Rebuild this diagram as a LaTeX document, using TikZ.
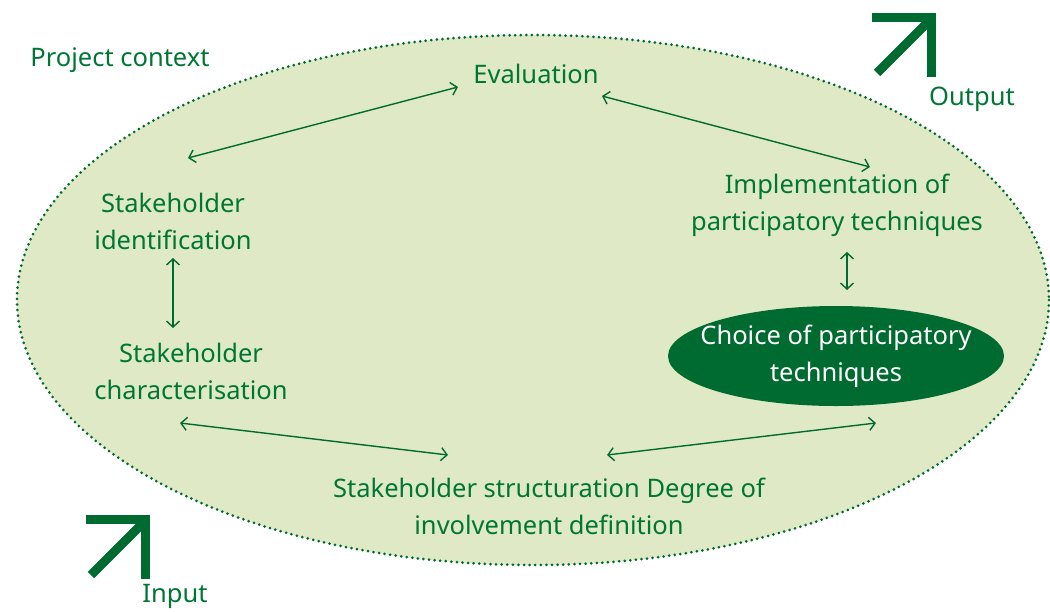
\documentclass[tikz,border=0pt]{standalone}
\usepackage{fontspec}
\setmainfont{Noto Sans}
\usepackage{tikz}
\usetikzlibrary{arrows.meta,shapes.geometric}
\definecolor{darkgreen}{RGB}{0,107,48}
\definecolor{textgreen}{RGB}{0,118,52}
\definecolor{lightgreen}{RGB}{224,233,197}

\begin{document}
\begin{tikzpicture}[x=1pt, y=-1pt,
		labeltext/.style={text=textgreen, font=\fontsize{25.5}{37}\selectfont, align=center},
		link/.style={draw=darkgreen, line width=1.4pt, {Straight Barb[length=6pt,width=13pt]}-{Straight Barb[length=6pt,width=13pt]}},
		bigarrow/.style={draw=darkgreen, line width=9pt}]
			%%%%% START %%%%%
			
			\useasboundingbox (0, 0) rectangle (1050, 611);
			
			\draw[fill=lightgreen, draw=darkgreen, line width=3pt, line cap=round, dash pattern=on 0pt off 5.6pt] (533, 300) ellipse (516 and 265);
			
			\node[labeltext] (ctx) at (120, 60) {Project context};
			\node[labeltext] (eval) at (536, 74) {Evaluation};
			\node[labeltext] (ident) at (173, 221) {Stakeholder\\identification};
			\node[labeltext] (charac) at (191, 371) {Stakeholder\\characterisation};
			\node[labeltext] (impl) at (837, 205) {Implementation of\\participatory techniques};
			\node[ellipse, fill=darkgreen, text=white, font=\fontsize{25.5}{37}\selectfont, align=center, minimum width=336, minimum height=100, inner xsep=-30pt, inner ysep=0pt] (choice) at (836, 356) {Choice of participatory\\techniques};
			\node[labeltext] (struct) at (549, 506) {Stakeholder structuration Degree of\\involvement definition};
			
			\node[labeltext] (out) at (972, 99) {Output};
			\node[labeltext] (in) at (175, 596) {Input};
			
			% arrow ends
			\coordinate (ev-w) at (458, 87);
			\coordinate (id-n) at (188, 158);
			\coordinate (ev-e) at (602, 96);
			\coordinate (im-n) at (870, 167);
			\coordinate (id-s) at (173, 258);
			\coordinate (ch-n) at (173, 328);
			\coordinate (im-s) at (847, 252);
			\coordinate (cp-n) at (847, 290);
			\coordinate (ch-s) at (180, 423);
			\coordinate (st-w) at (448, 455);
			\coordinate (st-e) at (607, 455);
			\coordinate (cp-s) at (876, 423);
			
			\draw[link] (id-n) -- (ev-w);
			\draw[link] (ev-e) -- (im-n);
			\draw[link] (id-s) -- (ch-n);
			\draw[link] (im-s) -- (cp-n);
			\draw[link] (ch-s) -- (st-w);
			\draw[link] (st-e) -- (cp-s);
			
			% output / input signs
			\draw[bigarrow] (877, 73) -- (928, 22);
			\draw[bigarrow] (872, 17.5) -- (931.5, 17.5) -- (931.5, 77);
			\draw[bigarrow] (91, 575) -- (142, 524);
			\draw[bigarrow] (86, 519.5) -- (145.5, 519.5) -- (145.5, 579);
			
			%%%%% END %%%%%
		\end{tikzpicture}
\end{document}
